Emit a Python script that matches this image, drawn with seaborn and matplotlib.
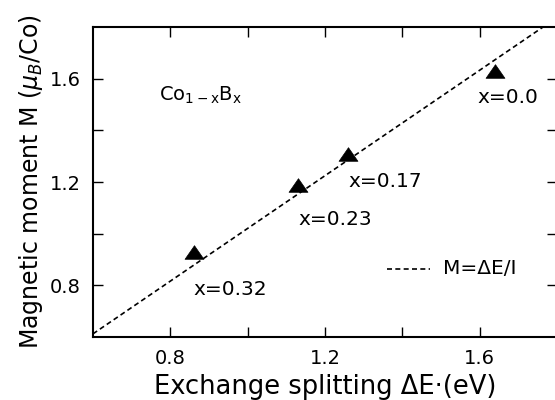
import numpy as np
import pandas as pd
import matplotlib
matplotlib.use("Agg")
import matplotlib.pyplot as plt
import seaborn as sns

# Data
delta_E = [1.64, 1.26, 1.13, 0.86]          # exchange splitting (eV)
moment = [1.63, 1.31, 1.19, 0.93]           # magnetic moment (muB/Co)
labels = ["x=0.0", "x=0.17", "x=0.23", "x=0.32"]
I_stoner = 0.98
line_E = [0.6, 1.8]
x_ticks = [0.8, 1.0, 1.2, 1.4, 1.6]
x_ticklabels = ["0.8", "", "1.2", "", "1.6"]
y_ticks = [0.8, 1.0, 1.2, 1.4, 1.6]
y_ticklabels = ["0.8", "", "1.2", "", "1.6"]

sns.set_theme(style="ticks")
plt.rcParams['font.family'] = ['DejaVu Sans']
plt.rcParams['text.color'] = 'black'
plt.rcParams['axes.labelcolor'] = 'black'
plt.rcParams['xtick.color'] = 'black'
plt.rcParams['ytick.color'] = 'black'
plt.rcParams['mathtext.default'] = 'regular'

fig = plt.figure(figsize=(5.55, 4.0), dpi=100)
ax = fig.add_axes([93/555, 63/400, (557-93)/555, (337-27)/400])

df_pts = pd.DataFrame({"dE": delta_E, "M": moment})
df_line = pd.DataFrame({"dE": line_E, "M": [e / I_stoner for e in line_E]})

dash = (0, (3.0, 2.0))
sns.lineplot(data=df_line, x="dE", y="M", ax=ax, color="black",
             linestyle=dash, linewidth=1.2)

tri = [(0, 0.72), (-1, -0.72), (1, -0.72), (0, 0.72)]
sns.scatterplot(data=df_pts, x="dE", y="M", ax=ax, marker=tri, s=185,
                color="black", edgecolor="black", linewidth=0.5, zorder=5)

ax.set_xlim(0.6, 1.8)
ax.set_ylim(0.6, 1.8)
ax.set_xticks(x_ticks)
ax.set_xticklabels(x_ticklabels)
ax.set_yticks(y_ticks)
ax.set_yticklabels(y_ticklabels)
ax.tick_params(direction="in", length=7, width=1.0, top=True, right=True,
               labelsize=14, colors="black", pad=9)
for sp in ax.spines.values():
    sp.set_linewidth(1.5)
    sp.set_color("black")

ax.set_xlabel("Exchange splitting ΔE·(eV)", fontsize=18.5, labelpad=4)
ax.set_ylabel(r"Magnetic moment M ($\it{\mu}_B$/Co)", fontsize=17, labelpad=3)

fs = 14.5
offsets = [(-0.045, -0.104), (0.0, -0.108), (0.0, -0.135), (0.0, -0.146)]
for (e, m), lab, (dx, dy) in zip(zip(delta_E, moment), labels, offsets):
    ax.text(e + dx, m + dy, lab, fontsize=fs, ha="left", va="center")

ax.text(0.77, 1.535, r"Co$_{1-x}$B$_x$", fontsize=14, ha="left", va="center")

# legend
ax.plot([1.36, 1.472], [0.865, 0.865], color="black",
        linestyle=dash, linewidth=1.2)
ax.text(1.504, 0.865, "M=ΔE/I", fontsize=fs, ha="left", va="center")

sns.despine(ax=ax, top=False, right=False)
fig.savefig("out.png", dpi=100)
